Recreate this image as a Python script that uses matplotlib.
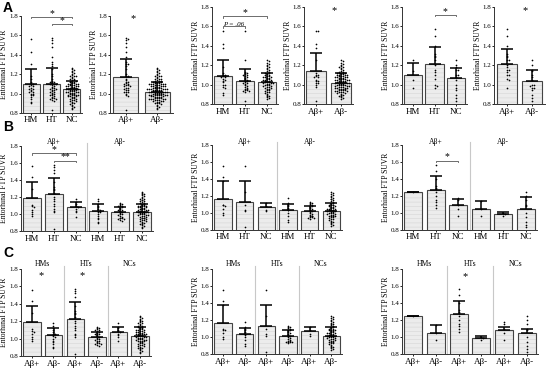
import numpy as np
import matplotlib
matplotlib.use('Agg')
import matplotlib.pyplot as plt

plt.rcParams['font.family'] = ['Liberation Serif', 'DejaVu Serif']
plt.rcParams['hatch.linewidth'] = 0.35

W, H = 558, 368
fig = plt.figure(figsize=(W / 100, H / 100), dpi=100)

# ---------------- data: individual SUVR points per column / group ----------------
# column 1
c1_HMp = [1.56, 1.43, 1.30, 1.11, 1.09, 1.08, 1.05, 1.02, 1.00, 0.98]
c1_HMm = [1.18, 1.15, 1.12, 1.10, 1.08, 1.06, 1.05, 1.04, 1.03, 1.02, 1.00, 0.98, 0.96, 0.94, 0.91, 0.90]
c1_HTp = [1.57, 1.55, 1.52, 1.48, 1.38, 1.32, 1.30, 1.28, 1.25, 1.20, 1.18, 1.15, 1.12, 1.10, 1.06, 1.04, 1.02, 0.83]
c1_HTm = [1.13, 1.12, 1.12, 1.11, 1.10, 1.10, 1.09, 1.08, 1.07, 1.06, 1.05, 1.05, 1.04, 1.03, 1.02, 1.01,
          1.00, 1.00, 0.99, 0.98, 0.97, 0.96, 0.95, 0.95, 0.94, 0.94, 0.93, 0.92]
c1_NCp = [1.18, 1.14, 1.12, 1.10, 1.09, 1.08, 1.06, 1.04, 1.02, 0.97]
c1_NCm = [1.26, 1.25, 1.24, 1.23, 1.22, 1.21, 1.20, 1.19, 1.18, 1.18, 1.17, 1.16, 1.15, 1.15, 1.14, 1.13,
          1.13, 1.12, 1.12, 1.11, 1.11, 1.10, 1.10, 1.10, 1.09, 1.09, 1.08, 1.08, 1.08, 1.07, 1.07, 1.06,
          1.06, 1.06, 1.05, 1.05, 1.05, 1.04, 1.04, 1.04, 1.03, 1.03, 1.03, 1.02, 1.02, 1.02, 1.01, 1.01,
          1.01, 1.00, 1.00, 1.00, 0.99, 0.99, 0.99, 0.98, 0.98, 0.97, 0.97, 0.96, 0.96, 0.95, 0.95, 0.94,
          0.94, 0.93, 0.93, 0.92, 0.92, 0.91, 0.90, 0.90, 0.89, 0.88, 0.87, 0.86, 0.85, 0.84]
# column 2
c2_HMp = [1.55, 1.42, 1.38, 1.10, 1.09, 1.08, 1.05, 1.00, 0.98]
c2_HMm = [1.18, 1.12, 1.10, 1.08, 1.06, 1.04, 1.03, 1.00, 0.97, 0.92, 0.90]
c2_HTp = [1.55, 1.25, 1.10, 1.04, 1.02, 0.83]
c2_HTm = [1.13, 1.12, 1.12, 1.11, 1.10, 1.09, 1.08, 1.07, 1.06, 1.05, 1.04, 1.03, 1.02, 1.01, 1.00,
          0.99, 0.98, 0.97, 0.96, 0.96, 0.95, 0.95, 0.94, 0.94, 0.93]
c2_NCp = [1.12, 1.08, 1.04, 1.02]
c2_NCm = [1.25, 1.24, 1.22, 1.21, 1.20, 1.19, 1.18, 1.17, 1.16, 1.15, 1.14, 1.13, 1.12, 1.12, 1.11, 1.10,
          1.10, 1.09, 1.09, 1.08, 1.08, 1.07, 1.07, 1.06, 1.06, 1.05, 1.05, 1.05, 1.04, 1.04, 1.03, 1.03,
          1.03, 1.02, 1.02, 1.01, 1.01, 1.00, 1.00, 1.00, 0.99, 0.99, 0.98, 0.98, 0.97, 0.97, 0.96, 0.96,
          0.95, 0.95, 0.94, 0.93, 0.93, 0.92, 0.91, 0.90, 0.89, 0.88, 0.87, 0.86, 0.85]
# column 3
c3_HMp = [1.25]
c3_HMm = [1.14, 1.05, 0.97]
c3_HTp = [1.57, 1.50, 1.40, 1.32, 1.30, 1.28, 1.25, 1.20, 1.15, 1.13, 1.10, 1.06]
c3_HTm = [1.00, 0.99, 0.97]
c3_NCp = [1.18, 1.15, 1.10, 1.05, 0.97]
c3_NCm = [1.25, 1.20, 1.15, 1.10, 1.08, 1.00, 0.95, 0.90, 0.86, 0.83]

# ---------------- bar heights (mean) and error-bar tops (mean + SD) ----------------
A1_mean = [1.10, 1.10, 1.05]; A1_top = [1.25, 1.26, 1.13]
A2_mean = [1.17, 1.02];       A2_top = [1.35, 1.12]
A3_mean = [1.09, 1.04, 1.03]; A3_top = [1.25, 1.16, 1.12]
A4_mean = [1.14, 1.02];       A4_top = [1.33, 1.12]
A5_mean = [1.10, 1.21, 1.07]; A5_top = [1.22, 1.39, 1.17]
A6_mean = [1.21, 1.04];       A6_top = [1.37, 1.15]
B1_mean = [1.19, 1.23, 1.08, 1.04, 1.02, 1.03]; B1_top = [1.38, 1.42, 1.14, 1.12, 1.08, 1.12]
B2_mean = [1.17, 1.13, 1.07, 1.04, 1.02, 1.02]; B2_top = [1.38, 1.38, 1.12, 1.11, 1.08, 1.12]
B3_mean = [1.25, 1.27, 1.09, 1.05, 0.99, 1.05]; B3_top = [1.25, 1.43, 1.16, 1.14, 1.01, 1.19]
C1_mean = [1.19, 1.04, 1.23, 1.02, 1.08, 1.03]; C1_top = [1.38, 1.12, 1.42, 1.08, 1.14, 1.13]
C2_mean = [1.17, 1.04, 1.13, 1.02, 1.07, 1.02]; C2_top = [1.38, 1.11, 1.38, 1.08, 1.12, 1.12]
C3_mean = [1.25, 1.05, 1.27, 0.99, 1.08, 1.05]; C3_top = [1.25, 1.14, 1.43, 1.01, 1.12, 1.10]

apoe_labels = ["HM", "HT", "NC"]
ab_labels = ["A\u03b2+", "A\u03b2-"]
B_labels = apoe_labels + apoe_labels
C_labels = ab_labels * 3
B_top = ["A\u03b2+", "A\u03b2-"]
C_top = ["HMs", "HTs", "NCs"]

YTICKS = [0.8, 1.0, 1.2, 1.4, 1.6, 1.8]
BAR_FACE = '#ececec'
HATCH_COL = '#d2d2d2'


def add_ax(l, r, t, b):
    return fig.add_axes([l / W, 1 - b / H, (r - l) / W, (b - t) / H])


def swarm(vals, step_x, bin_h=0.016):
    vals = np.asarray(vals, float)
    order = np.argsort(-vals)
    bins = {}
    xs = np.zeros(len(vals))
    for i in order:
        k = int(round(vals[i] / bin_h))
        n = bins.get(k, 0)
        bins[k] = n + 1
        off = ((n + 1) // 2) * (1 if n % 2 == 1 else -1)
        xs[i] = off * step_x
    return xs, vals


def panel(box, labels, means, tops, groups, width, lab_off=12.5, xfs=6.5):
    l, r, t, b = box
    ax = add_ax(l, r, t, b)
    n = len(labels)
    x = np.arange(n)
    ax.set_xlim(-0.5, n - 0.5)
    ax.set_ylim(0.8, 1.8)
    ax.bar(x, means, width=width, bottom=0, color=BAR_FACE, edgecolor=HATCH_COL,
           hatch='----', linewidth=0, zorder=1)
    ax.bar(x, means, width=width, fill=False, edgecolor='#444444', linewidth=0.8, zorder=2)
    err = np.array(tops) - np.array(means)
    ax.errorbar(x, means, yerr=[np.zeros(n), err], fmt='none', ecolor='black',
                elinewidth=1.1, capsize=4.0, capthick=1.1, zorder=4)
    pxu = (r - l) / n
    step = 2.0 / pxu
    for xi, g in zip(x, groups):
        dx, yy = swarm(g, step)
        ax.scatter(xi + dx, yy, s=1.5, color='black', linewidths=0, zorder=3)
    for s in ['top', 'right']:
        ax.spines[s].set_visible(False)
    for s in ['left', 'bottom']:
        ax.spines[s].set_linewidth(0.7)
        ax.spines[s].set_color('#333333')
    ax.set_yticks(YTICKS)
    ax.set_yticklabels([f"{v:.1f}" for v in YTICKS], fontsize=5)
    ax.set_xticks(x)
    ax.set_xticklabels(labels, fontsize=xfs)
    ax.tick_params(axis='y', length=1.5, width=0.6, pad=0.5)
    ax.tick_params(axis='x', length=1.5, width=0.6, pad=1)
    ax.set_ylabel("Entorhinal FTP SUVR", fontsize=5.5)
    ax.yaxis.set_label_coords(-lab_off / (r - l), 0.5)
    return ax


def bracket(ax, x1, x2, y, text, fs=7, italic=False):
    ax.plot([x1, x1, x2, x2], [y - 0.015, y, y, y - 0.015], color='#555555', lw=0.6, clip_on=False)
    ax.text((x1 + x2) / 2, y - 0.01, text, ha='center', va='bottom',
            fontsize=fs, style='italic' if italic else 'normal', clip_on=False)


def star(ax, x, y):
    ax.text(x, y, "*", ha='center', va='center', fontsize=7.5)


def dividers(ax, xs):
    for xv in xs:
        ax.axvline(xv, ymin=0, ymax=1.03, color='#c8c8c8', lw=0.8, clip_on=False)


cols = [
    (c1_HMp, c1_HMm, c1_HTp, c1_HTm, c1_NCp, c1_NCm),
    (c2_HMp, c2_HMm, c2_HTp, c2_HTm, c2_NCp, c2_NCm),
    (c3_HMp, c3_HMm, c3_HTp, c3_HTm, c3_NCp, c3_NCm),
]

A_apoe_boxes = [(21, 82, 15.7, 113), (212, 278, 6.7, 104.3), (402, 467, 6.7, 104.3)]
A_ab_boxes = [(110, 173, 15.7, 113), (304, 353, 6.7, 104.3), (494, 545, 6.7, 104.3)]
B_boxes = [(21, 153, 145.7, 231.3), (212, 342, 145, 230), (402, 537, 145, 230)]
C_boxes = [(21, 151, 269, 356.3), (212, 342, 269, 354.3), (402, 538, 269, 354.3)]

A_apoe_stats = [(A1_mean, A1_top), (A3_mean, A3_top), (A5_mean, A5_top)]
A_ab_stats = [(A2_mean, A2_top), (A4_mean, A4_top), (A6_mean, A6_top)]
B_stats = [(B1_mean, B1_top), (B2_mean, B2_top), (B3_mean, B3_top)]
C_stats = [(C1_mean, C1_top), (C2_mean, C2_top), (C3_mean, C3_top)]

axA1, axA2, axB, axC = [], [], [], []
for i, (HMp, HMm, HTp, HTm, NCp, NCm) in enumerate(cols):
    m, tp = A_apoe_stats[i]
    axA1.append(panel(A_apoe_boxes[i], apoe_labels, m, tp, [HMp + HMm, HTp + HTm, NCp + NCm], 0.85))
    m, tp = A_ab_stats[i]
    axA2.append(panel(A_ab_boxes[i], ab_labels, m, tp, [HMp + HTp + NCp, HMm + HTm + NCm], 0.8))
    m, tp = B_stats[i]
    a = panel(B_boxes[i], B_labels, m, tp, [HMp, HTp, NCp, HMm, HTm, NCm], 0.8)
    dividers(a, [2.5])
    a.text(1, 1.84, B_top[0], ha='center', va='center', fontsize=5.5, clip_on=False)
    a.text(4, 1.84, B_top[1], ha='center', va='center', fontsize=5.5, clip_on=False)
    axB.append(a)
    m, tp = C_stats[i]
    a = panel(C_boxes[i], C_labels, m, tp, [HMp, HMm, HTp, HTm, NCp, NCm], 0.8)
    dividers(a, [1.5, 3.5])
    for k, lab in enumerate(C_top):
        a.text(2 * k + 0.5, 1.86, lab, ha='center', va='center', fontsize=5.5, clip_on=False)
    axC.append(a)

# significance annotations
bracket(axA1[0], 0, 2, 1.79, "*")
bracket(axA1[0], 1, 2, 1.715, "*")
star(axA2[0], 0.23, 1.77)
bracket(axA1[1], 0, 2, 1.70, "*")
bracket(axA1[1], 0, 1, 1.60, "P = .06", fs=5, italic=True)
star(axA2[1], 0.72, 1.76)
bracket(axA1[2], 1, 2, 1.715, "*")
star(axA2[2], 0.72, 1.76)
bracket(axB[0], 0, 2, 1.71, "*")
bracket(axB[0], 1, 2, 1.625, "**")
bracket(axB[2], 1, 2, 1.615, "*")
star(axC[0], 0.42, 1.72)
star(axC[0], 2.34, 1.72)
star(axC[2], 2.30, 1.71)

# panel letters
for lab, y in [("A", 1), ("B", 120), ("C", 246)]:
    fig.text(3 / W, 1 - y / H, lab, fontsize=10, fontweight='bold', family='Liberation Sans',
             ha='left', va='top')

fig.savefig('out.png', dpi=100)
